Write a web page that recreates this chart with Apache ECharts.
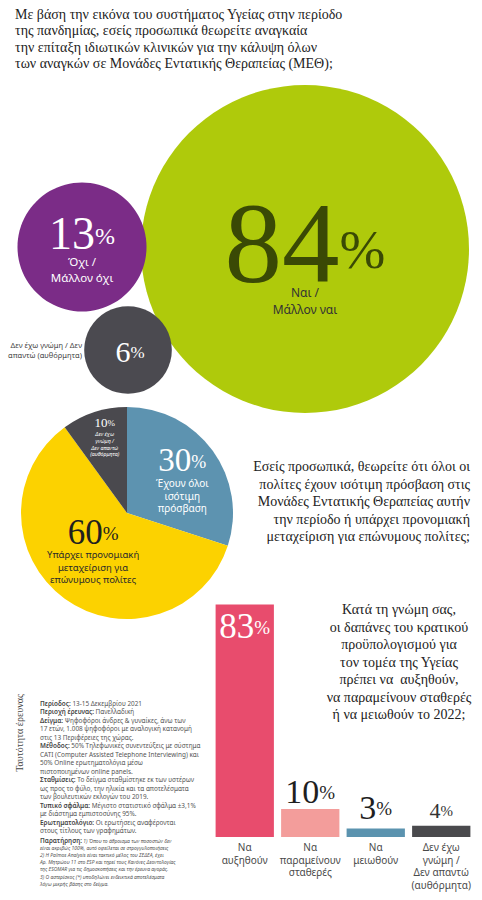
<!DOCTYPE html>
<html>
<head>
<meta charset="utf-8">
<script src="https://cdn.jsdelivr.net/npm/echarts@6/dist/echarts.min.js"></script>
<style>html,body{margin:0;padding:0;background:#fff}#c{width:482px;height:900px}</style>
</head>
<body>
<div id="c"></div>
<script>
// ---------------- DATA ----------------
const q1Title = ['Με βάση την εικόνα του συστήματος Υγείας στην περίοδο',
  'της πανδημίας, εσείς προσωπικά θεωρείτε αναγκαία',
  'την επίταξη ιδιωτικών κλινικών για την κάλυψη όλων',
  'των αναγκών σε Μονάδες Εντατικής Θεραπείας (ΜΕΘ);'];
const q1Categories = ['Ναι /\nΜάλλον ναι', 'Όχι /\nΜάλλον όχι', 'Δεν έχω γνώμη / Δεν\nαπαντώ (αυθόρμητα)'];
const q1Values = [84, 13, 6];

const q2Title = ['Εσείς προσωπικά, θεωρείτε ότι όλοι οι',
  'πολίτες έχουν ισότιμη πρόσβαση στις',
  'Μονάδες Εντατικής Θεραπείας αυτήν',
  'την περίοδο ή υπάρχει προνομιακή',
  'μεταχείριση για επώνυμους πολίτες;'];
const q2Categories = ['Έχουν όλοι\nισότιμη\nπρόσβαση', 'Υπάρχει προνομιακή\nμεταχείριση για\nεπώνυμους πολίτες', 'Δεν έχω\nγνώμη /\nΔεν απαντώ\n(αυθόρμητα)'];
const q2Values = [30, 60, 10];

const q3Title = ['Κατά τη γνώμη σας,', 'οι δαπάνες του κρατικού', 'προϋπολογισμού για',
  'τον τομέα της Υγείας', 'πρέπει να  αυξηθούν,', 'να παραμείνουν σταθερές', 'ή να μειωθούν το 2022;'];
const q3Categories = ['Να\nαυξηθούν', 'Να\nπαραμείνουν\nσταθερές', 'Να\nμειωθούν', 'Δεν έχω\nγνώμη /\nΔεν απαντώ\n(αυθόρμητα)'];
const q3Values = [83, 10, 3, 4];

const methodTitle = 'Ταυτότητα έρευνας';
const methodSections = [
  ['Περίοδος:', ['13-15 Δεκεμβρίου 2021']],
  ['Περιοχή έρευνας:', ['Πανελλαδική']],
  ['Δείγμα:', ['Ψηφοφόροι άνδρες & γυναίκες, άνω των', '17 ετών, 1.008 ψηφοφόροι με αναλογική κατανομή', 'στις 13 Περιφέρειες της χώρας.']],
  ['Μέθοδος:', ['50% Τηλεφωνικές συνεντεύξεις με σύστημα', 'CATI (Computer Assisted Telephone Interviewing) και', '50% Online ερωτηματολόγια μέσω', 'πιστοποιημένων online panels.']],
  ['Σταθμίσεις:', ['Το δείγμα σταθμίστηκε εκ των υστέρων', 'ως προς το φύλο, την ηλικία και τα αποτελέσματα', 'των βουλευτικών εκλογών του 2019.']],
  ['Τυπικό σφάλμα:', ['Μέγιστο στατιστικό σφάλμα ±3,1%', 'με διάστημα εμπιστοσύνης 95%.']],
  ['Ερωτηματολόγιο:', ['Οι ερωτήσεις αναφέρονται', 'στους τίτλους των γραφημάτων.']]
];
const notesHead = 'Παρατήρηση:';
const notesLines = ['1) Όπου το άθροισμα των ποσοστών δεν',
  'είναι ακριβώς 100%, αυτό οφείλεται σε στρογγυλοποιήσεις',
  '2) Η Palmos Analysis είναι τακτικό μέλος του ΣΕΔΕΑ, έχει',
  'Αρ. Μητρώου 11 στο ESP και τηρεί τους Κανόνες Δεοντολογίας',
  'της ESOMAR για τις δημοσκοπήσεις και την έρευνα αγοράς.',
  '3) Ο αστερίσκος (*) υποδηλώνει ενδεικτικά αποτελέσματα',
  'λόγω μικρής βάσης στο δείγμα.'];

// ---------------- STYLE / LAYOUT ----------------
const SERIF = '"Liberation Serif", "DejaVu Serif", serif';
const SANS = '"Noto Sans", "Open Sans", sans-serif';
const BASE_K = 0.6; // baseline shift factor used to sit the small "%" on the digits' baseline

const bubbleCenters = [[305, 249], [82, 247], [128, 350]];
const bubbleColors = ['#AFCA0B', '#7B2C87', '#4B4A50'];
const maxBubbleDiameter = 328;
const bubbleDiameter = v => maxBubbleDiameter * Math.sqrt(v / Math.max(...q1Values));

const pieColors = ['#5D93B0', '#FCD200', '#4A494E'];
const barColors = ['#E84C6D', '#F39D9B', '#5B93AF', '#4A4A4D'];

const bubbleLabelStyles = [
  { numColor: '#3A4905', numSize: 115, pctSize: 55, numLH: 98, txtColor: '#333', txtSize: 12, txtLH: 17, offset: [0, 3] },
  { numColor: '#fff', numSize: 46, pctSize: 24, numLH: 43, txtColor: '#fff', txtSize: 11.5, txtLH: 16, offset: [0, 1] },
  { numColor: '#fff', numSize: 30, pctSize: 17, numLH: 30, txtColor: '#fff', txtSize: 8, txtLH: 10, offset: [2, 1], noText: true }
];
const pieLabelStyles = [
  { numColor: '#fff', numSize: 33, pctSize: 18, numLH: 33, txtColor: '#fff', txtSize: 10, txtLH: 12.5, offset: [10, -1], italic: false },
  { numColor: '#1f1f1f', numSize: 35, pctSize: 19, numLH: 34, txtColor: '#2a2a2a', txtSize: 9.5, txtLH: 12.5, offset: [-1, -8], italic: false },
  { numColor: '#fff', numSize: 13, pctSize: 9, numLH: 15, txtColor: '#fff', txtSize: 5.3, txtLH: 6.8, offset: [-5, -23], italic: true }
];
const barLabelStyles = [
  { position: 'insideTop', distance: 4, color: '#fff', numSize: 35, pctSize: 19 },
  { position: 'top', distance: 1, color: '#1f1f1f', numSize: 34, pctSize: 19 },
  { position: 'top', distance: 4.5, color: '#1f1f1f', numSize: 34, pctSize: 19 },
  { position: 'top', distance: 4.5, color: '#333', numSize: 22, pctSize: 15 }
];

function numRich(numSize, pctSize, color, lh) {
  return {
    n: { fontFamily: SERIF, fontSize: numSize, color: color, lineHeight: lh, verticalAlign: 'top' },
    p: { fontFamily: SERIF, fontSize: pctSize, color: color, lineHeight: lh, verticalAlign: 'top',
         padding: [BASE_K * (numSize - pctSize), 0, 0, 0] }
  };
}
function numLabel(s) {
  const rich = numRich(s.numSize, s.pctSize, s.numColor, s.numLH);
  rich.t = { fontFamily: SANS, fontSize: s.txtSize, color: s.txtColor, lineHeight: s.txtLH,
             fontStyle: s.italic ? 'italic' : 'normal', align: 'center' };
  return { show: true, position: 'inside', offset: s.offset, align: 'center', rich: rich };
}
function numFormatter(value, name, withText) {
  let s = '{n|' + value + '}{p|%}';
  if (withText) s += '\n' + name.split('\n').map(l => '{t|' + l + '}').join('\n');
  return s;
}

const chart = echarts.init(document.getElementById('c'), null, { renderer: 'svg' });

const bubbleData = q1Values.map((v, i) => {
  const st = bubbleLabelStyles[i];
  const lab = numLabel(st);
  lab.formatter = numFormatter(v, q1Categories[i], !st.noText);
  return { value: [bubbleCenters[i][0], bubbleCenters[i][1], v], name: q1Categories[i], itemStyle: { color: bubbleColors[i], opacity: 1 }, label: lab };
});

const pieData = q2Values.map((v, i) => {
  const lab = numLabel(pieLabelStyles[i]);
  lab.formatter = numFormatter(v, q2Categories[i], true);
  return { value: v, name: q2Categories[i], itemStyle: { color: pieColors[i] }, label: lab };
});

const barData = q3Values.map((v, i) => {
  const s = barLabelStyles[i];
  return {
    value: v,
    itemStyle: { color: barColors[i] },
    label: {
      show: true, position: s.position, distance: s.distance,
      formatter: '{n|' + v + '}{p|%}',
      rich: numRich(s.numSize, s.pctSize, s.color, s.numSize)
    }
  };
});

// methodology rich text
const methodText = methodSections.map(([h, lines]) =>
  '{b|' + h + '}{r| ' + lines[0] + '}' + lines.slice(1).map(l => '\n{r|' + l + '}').join('')
).join('\n');
const notesText = '{b|' + notesHead + '}{i| ' + notesLines[0] + '}' + notesLines.slice(1).map(l => '\n{i|' + l + '}').join('');

function textEl(x, y, lines, o) {
  return {
    type: 'text', x: x, y: y, silent: true,
    style: Object.assign({
      text: lines.join('\n'), fill: '#222', fontFamily: SERIF, fontSize: 14, lineHeight: 17,
      textAlign: o.align || 'left', align: o.align || 'left',
      textVerticalAlign: 'top', verticalAlign: 'top'
    }, o.style || {})
  };
}

const option = {
  animation: false,
  backgroundColor: '#fff',
  grid: [
    { left: 0, top: 0, width: 482, height: 900, show: false },
    { left: 212, right: 8, bottom: 63, height: 280, show: false }
  ],
  xAxis: [
    { gridIndex: 0, type: 'value', min: 0, max: 482, show: false },
    { gridIndex: 1, type: 'category', data: q3Categories,
      axisLine: { show: false }, axisTick: { show: false }, splitLine: { show: false },
      axisLabel: { interval: 0, fontFamily: SANS, fontSize: 10, color: '#4a4a4a', lineHeight: 12.5, margin: 4 } }
  ],
  yAxis: [
    { gridIndex: 0, type: 'value', min: 0, max: 900, inverse: true, show: false },
    { gridIndex: 1, type: 'value', min: 0, max: 100, show: false }
  ],
  series: [
    { type: 'scatter', xAxisIndex: 0, yAxisIndex: 0, silent: true,
      symbol: 'circle',
      symbolSize: val => bubbleDiameter(val[2]),
      data: bubbleData,
      emphasis: { disabled: true } },
    { type: 'pie', center: [127, 513], radius: 106, startAngle: 90, clockwise: true,
      silent: true, avoidLabelOverlap: false, labelLine: { show: false },
      itemStyle: { borderWidth: 0 },
      emphasis: { disabled: true },
      data: pieData },
    { type: 'bar', xAxisIndex: 1, yAxisIndex: 1, silent: true,
      barCategoryGap: '11%', data: barData, emphasis: { disabled: true } }
  ],
  graphic: [
    textEl(15, 6, q1Title, { style: { lineHeight: 16.5 } }),
    textEl(470, 458, q2Title, { align: 'right', style: { lineHeight: 17.5 } }),
    textEl(399, 601, q3Title, { align: 'center', style: { lineHeight: 17.5 } }),
    { type: 'text', x: 82, y: 350, silent: true,
      style: { text: q1Categories[2], fontFamily: SANS, fontSize: 7.5, lineHeight: 9.5, fill: '#444',
        textAlign: 'right', align: 'right', textVerticalAlign: 'middle', verticalAlign: 'middle' } },
    { type: 'text', x: 19, y: 733, rotation: Math.PI / 2, silent: true,
      style: { text: methodTitle, fontFamily: SERIF, fontSize: 10, fill: '#444',
        textAlign: 'center', align: 'center', textVerticalAlign: 'middle', verticalAlign: 'middle' } },
    { type: 'text', x: 40, y: 699, silent: true,
      style: { text: methodText, textAlign: 'left', align: 'left', textVerticalAlign: 'top', verticalAlign: 'top',
        rich: {
          b: { fontFamily: SANS, fontSize: 6.4, fontWeight: 600, fill: '#444', color: '#444', lineHeight: 8.5 },
          r: { fontFamily: SANS, fontSize: 6.4, fontWeight: 400, fill: '#555', color: '#555', lineHeight: 8.5 }
        } } },
    { type: 'text', x: 40, y: 837, silent: true,
      style: { text: notesText, textAlign: 'left', align: 'left', textVerticalAlign: 'top', verticalAlign: 'top',
        rich: {
          b: { fontFamily: SANS, fontSize: 6.4, fontWeight: 600, fill: '#444', color: '#444', lineHeight: 7.2 },
          i: { fontFamily: SANS, fontSize: 5, fontStyle: 'italic', fill: '#555', color: '#555', lineHeight: 7.2 }
        } } }
  ]
};
chart.setOption(option);
</script>
</body>
</html>
